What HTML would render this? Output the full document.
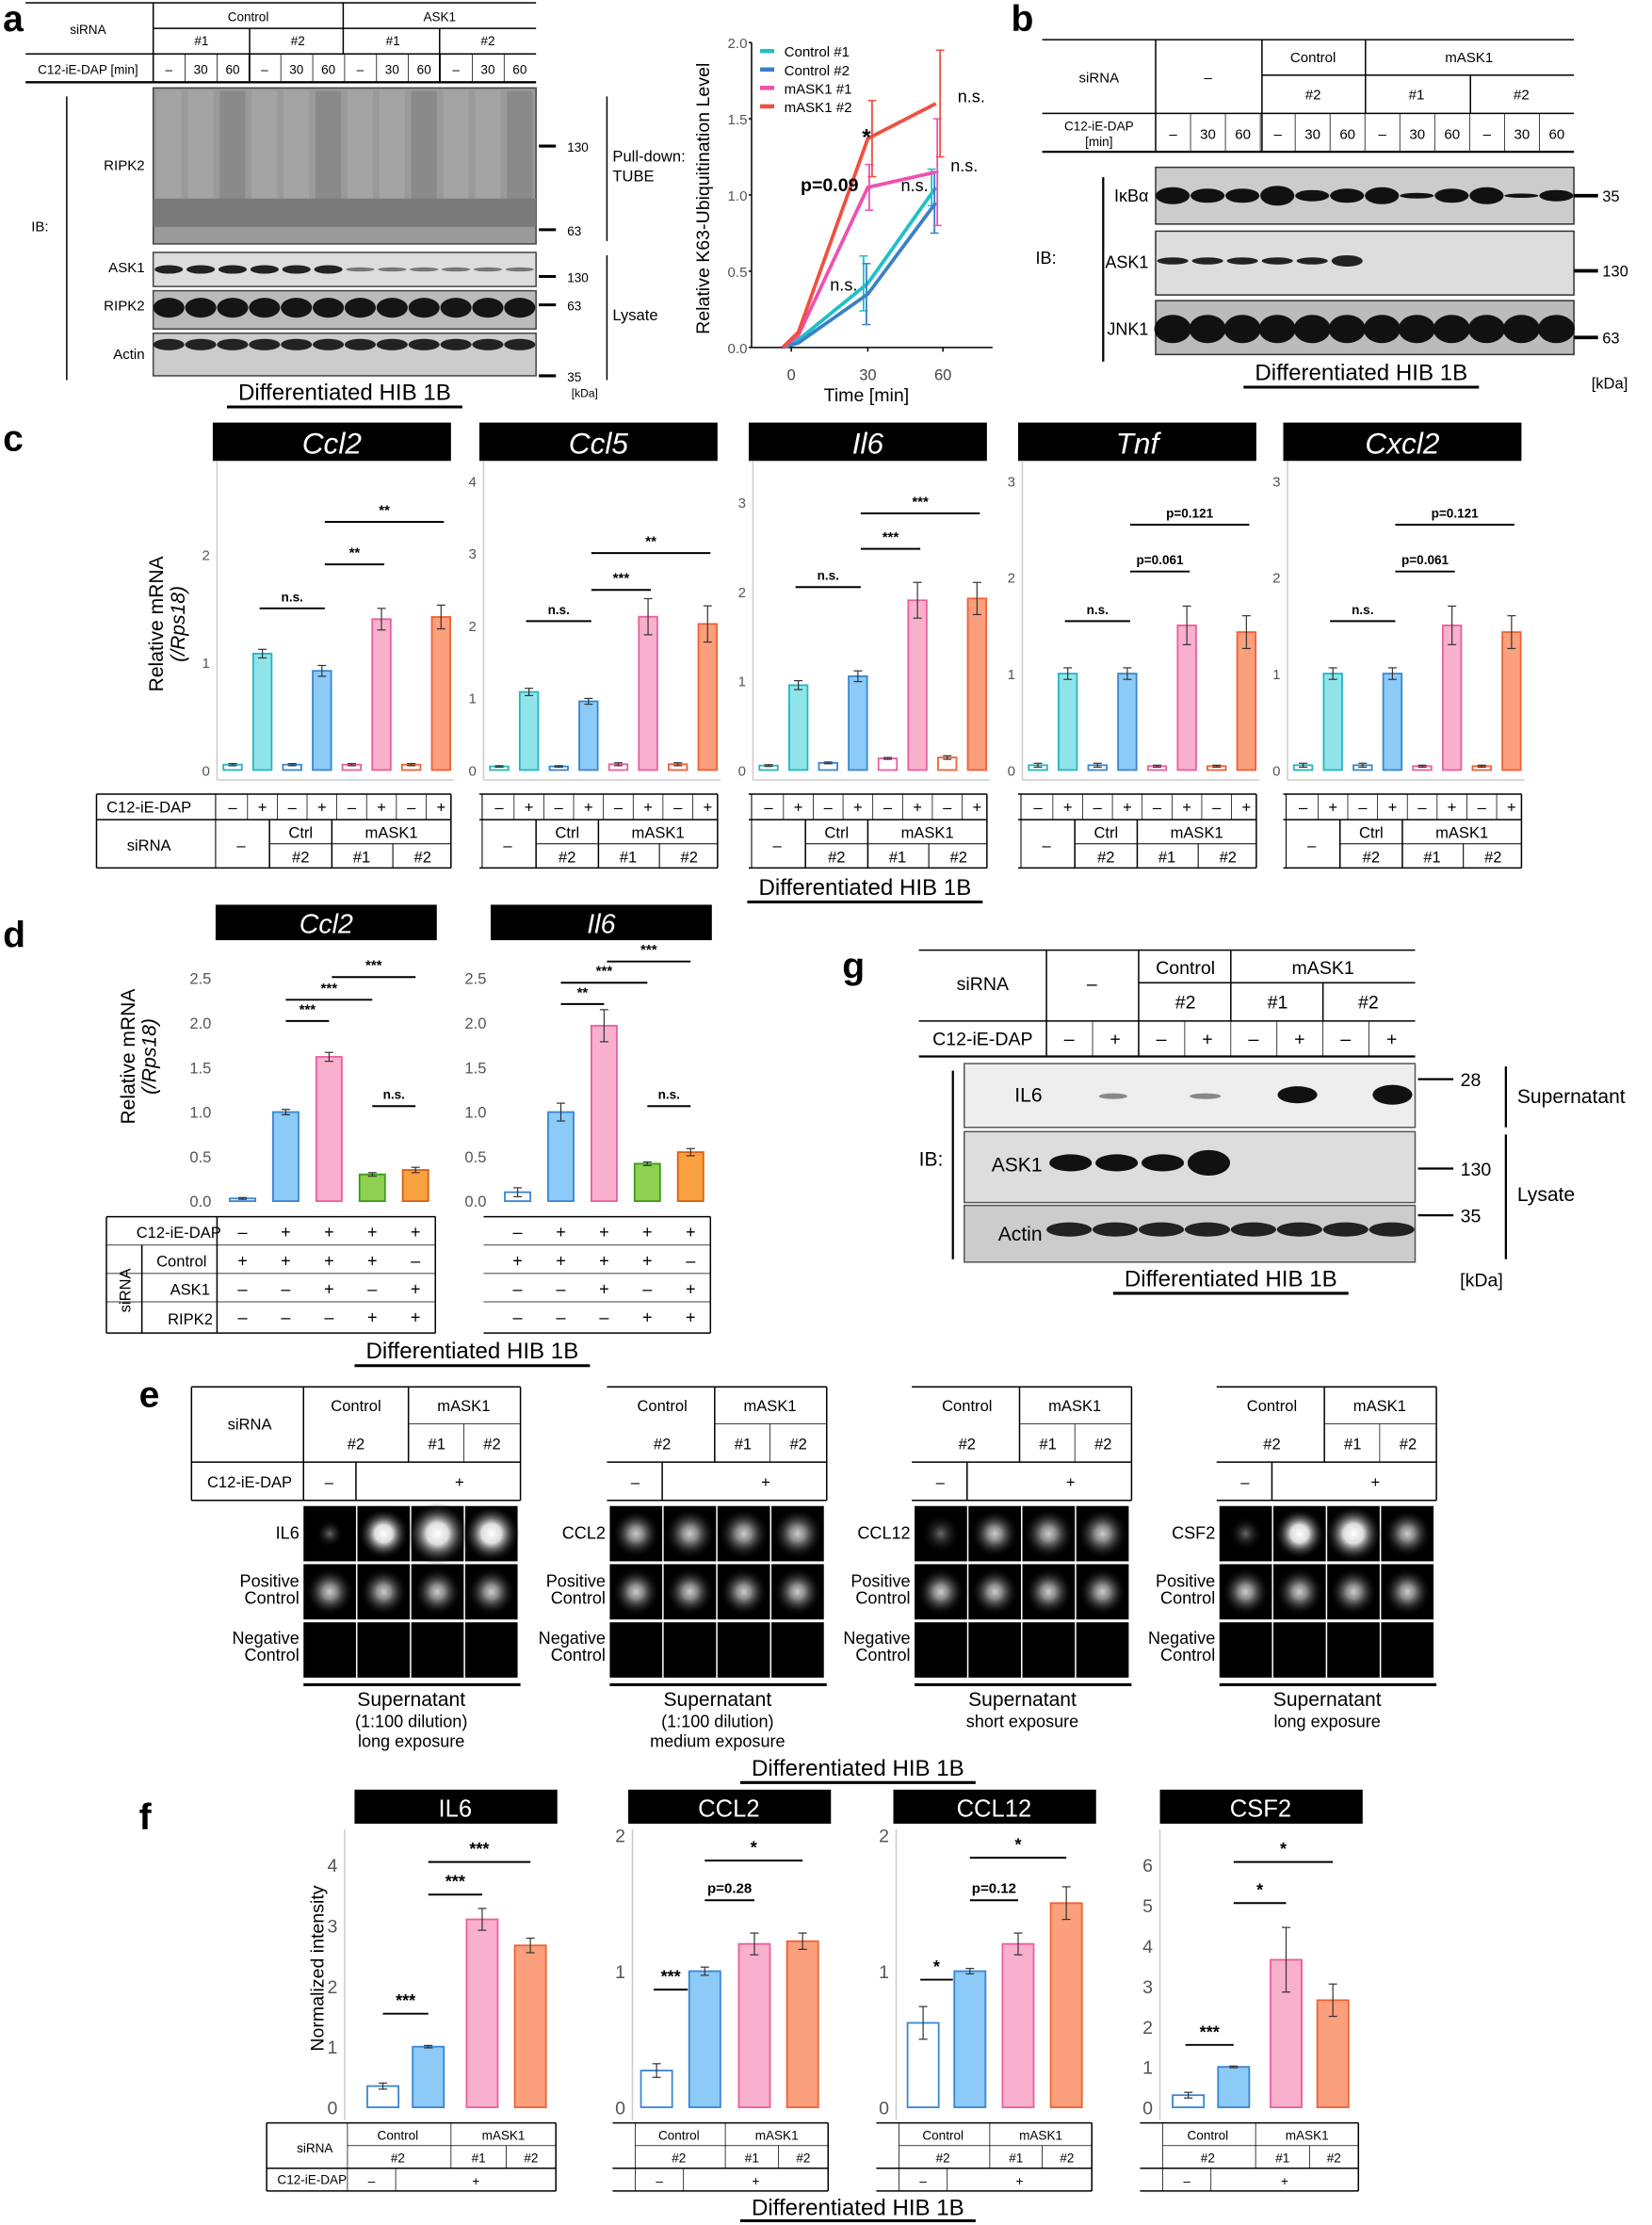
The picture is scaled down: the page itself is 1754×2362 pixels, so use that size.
<!DOCTYPE html>
<html><head><meta charset="utf-8"><style>
html,body{margin:0;padding:0;background:#fff;}
svg{display:block;}
text{font-family:"Liberation Sans",sans-serif;}
</style></head><body>
<svg id="s" xmlns="http://www.w3.org/2000/svg" width="1754" height="2362" viewBox="0 0 1165 1569">
<defs>
<radialGradient id="g1"><stop offset="0" stop-color="#fff"/><stop offset="0.35" stop-color="#ddd"/><stop offset="1" stop-color="#000" stop-opacity="0"/></radialGradient>
<radialGradient id="g2"><stop offset="0" stop-color="#ccc"/><stop offset="0.3" stop-color="#888"/><stop offset="1" stop-color="#000" stop-opacity="0"/></radialGradient>
<radialGradient id="g3"><stop offset="0" stop-color="#666"/><stop offset="0.3" stop-color="#333"/><stop offset="1" stop-color="#000" stop-opacity="0"/></radialGradient>
</defs>
</svg>
<script>
var o='';
function R(x,y,w,h,f,s,sw){o+='<rect x="'+x+'" y="'+y+'" width="'+w+'" height="'+h+'" fill="'+(f||'none')+'"'+(s?' stroke="'+s+'" stroke-width="'+(sw||1)+'"':'')+'/>';}
function L(x1,y1,x2,y2,c,w){o+='<line x1="'+x1+'" y1="'+y1+'" x2="'+x2+'" y2="'+y2+'" stroke="'+(c||'#000')+'" stroke-width="'+(w||1)+'"/>';}
function T(x,y,s,sz,a,ex){o+='<text x="'+x+'" y="'+y+'" font-size="'+(sz||11)+'" text-anchor="'+(a||'middle')+'" '+(ex||'')+'>'+s+'</text>';}
[['a',2,22],['b',713,22],['c',2,318],['d',2,668],['g',594,690],['e',98,992],['f',98,1290]].forEach(function(p){T(p[1],p[2],p[0],26,'start','font-weight="bold"');});
// ===== Panel a table
L(18,2,378,2);L(18,58,378,58,'#000',1.5);L(18,38,378,38);L(108,20,378,20);
L(108,2,108,58);L(242,2,242,38);
T(62,24,'siRNA',9);T(175,15,'Control',9);T(310,15,'ASK1',9);
T(142,32,'#1',9);T(210,32,'#2',9);T(277,32,'#1',9);T(344,32,'#2',9);L(176,20,176,58);L(310,20,310,58);
T(62,52,'C12-iE-DAP [min]',9);
var lab=['–','30','60'];
for(var i=0;i<12;i++){var cx=108+22.5*i+11;T(cx,52,lab[i%3],9);if(i>0)L(108+22.5*i,38,108+22.5*i,58,'#000',0.5);}
R(108,62,270,110,'#9a9a9a','#444');
for(var i=0;i<12;i++){R(110+22.5*i,64,18,80,i%3==2?'#8a8a8a':'#a4a4a4');}
R(108,140,270,20,'#7a7a7a');
R(108,178,270,24,'#ddd','#444');for(var i=0;i<12;i++)o+='<ellipse cx="'+(119+22.5*i)+'" cy="190" rx="10" ry="'+(i<6?3:1.5)+'" fill="'+(i<6?'#222':'#777')+'"/>';
R(108,205,270,27,'#bbb','#444');for(var i=0;i<12;i++)o+='<ellipse cx="'+(119+22.5*i)+'" cy="217" rx="11" ry="7" fill="#151515"/>';
R(108,235,270,30,'#ccc','#444');for(var i=0;i<12;i++)o+='<ellipse cx="'+(119+22.5*i)+'" cy="243" rx="11" ry="4" fill="#222"/>';
T(102,120,'RIPK2',10,'end');T(102,192,'ASK1',10,'end');T(102,219,'RIPK2',10,'end');T(102,253,'Actin',10,'end');
T(22,163,'IB:',10,'start');L(47,68,47,268);
[[103,'130'],[162,'63'],[195,'130'],[215,'63'],[265,'35']].forEach(function(m){L(380,m[0],392,m[0],'#000',2);T(400,m[0]+4,m[1],9,'start');});
T(403,280,'[kDa]',8,'start');
L(428,68,428,170);L(428,180,428,268);T(432,114,'Pull-down:',11,'start');T(432,128,'TUBE',11,'start');T(432,226,'Lysate',11,'start');
T(243,282,'Differentiated HIB 1B',16);L(160,287,326,287,'#000',2);
// line chart a
L(530,30,530,245);L(530,245,700,245);
[0,0.5,1,1.5,2].forEach(function(v){var y=245-107.5*v;T(527,y+4,v.toFixed(1),10,'end','fill="#555"');L(528,y,530,y);});
[['0',558],['30',612],['60',665]].forEach(function(t){T(t[1],268,t[0],11,'middle','fill="#444"');L(t[1],245,t[1],248);});
T(611,283,'Time [min]',13);
T(500,140,'Relative K63-Ubiquitination Level',13,'middle','transform="rotate(-90 500 140)"');
var xs=[552,563,612,660];
var ser=[['#20c0c8',[0,0.05,0.42,1.05],[0,0,0.18,0.12]],['#3a80c8',[0,0.03,0.35,0.95],[0,0,0.2,0.2]],['#f050b0',[0,0.08,1.05,1.15],[0,0,0.15,0.35]],['#f05040',[0,0.1,1.37,1.6],[0,0,0.25,0.35]]];
ser.forEach(function(s,k){var p=xs.map(function(x,i){return x+','+(245-107.5*s[1][i]);}).join(' ');o+='<polyline points="'+p+'" fill="none" stroke="'+s[0]+'" stroke-width="2.5"/>';
 for(var i=2;i<4;i++){var x=xs[i]+(k-1.5)*2,y1=245-107.5*(s[1][i]-s[2][i]),y2=245-107.5*(s[1][i]+s[2][i]);L(x,y1,x,y2,s[0],1.2);L(x-3,y1,x+3,y1,s[0]);L(x-3,y2,x+3,y2,s[0]);}});
var ln=['Control #1','Control #2','mASK1 #1','mASK1 #2'];
ser.forEach(function(s,k){L(536,36+13*k,546,36+13*k,s[0],3);T(553,40+13*k,ln[k],10,'start');});
T(611,102,'*',16,'middle','font-weight="bold"');T(585,135,'p=0.09',13,'middle','font-weight="bold"');T(645,135,'n.s.',12);T(685,72,'n.s.',12);T(680,121,'n.s.',12);T(595,205,'n.s.',12);
// ===== Panel b
L(735,28,1110,28);L(735,80,1110,80);L(735,107,1110,107,'#000',1.5);L(890,53,1110,53);
L(815,28,815,107);L(890,28,890,107);L(963,28,963,80);L(1037,53,1037,80);
T(775,58,'siRNA',10);T(852,58,'–',10);T(926,44,'Control',10);T(1036,44,'mASK1',10);
T(926,70,'#2',10);T(999,70,'#1',10);T(1073,70,'#2',10);
T(775,92,'C12-iE-DAP',9);T(775,103,'[min]',9);
for(var i=0;i<12;i++){var cx=815+24.6*i+12.3;T(cx,98,lab[i%3],10);if(i>0)L(815+24.6*i,80,815+24.6*i,107,'#000',0.5);}
R(815,118,295,40,'#ccc','#333');var ik=[6,5,5,7,4,5,6,2,5,6,1.5,4];for(var i=0;i<12;i++)o+='<ellipse cx="'+(827+24.6*i)+'" cy="138" rx="12" ry="'+ik[i]+'" fill="#111"/>';
R(815,163,295,45,'#ddd','#333');for(var i=0;i<6;i++)o+='<ellipse cx="'+(827+24.6*i)+'" cy="184" rx="11" ry="'+(i==5?4:2.5)+'" fill="#222"/>';
R(815,212,295,38,'#bbb','#333');for(var i=0;i<12;i++)o+='<ellipse cx="'+(827+24.6*i)+'" cy="232" rx="13" ry="10" fill="#111"/>';
T(810,142,'IκBα',12,'end');T(810,189,'ASK1',12,'end');T(810,236,'JNK1',12,'end');T(745,186,'IB:',12,'end');L(778,125,778,255,'#000',1.5);
L(1110,138,1127,138,'#000',2.5);T(1130,142,'35',11,'start');L(1110,191,1127,191,'#000',2.5);T(1130,195,'130',11,'start');L(1110,238,1127,238,'#000',2.5);T(1130,242,'63',11,'start');
T(960,268,'Differentiated HIB 1B',16);L(877,273,1043,273,'#000',2);T(1148,274,'[kDa]',11,'end');
// ===== bars generic
var C={cy:['#8fe4ea','#27b6c0'],bl:['#8ccaf7','#3a86d0'],pk:['#f9b0cc','#ea5f9e'],or:['#fb9f7c','#ee6236'],gr:['#8fd050','#3d9a20'],o2:['#f9a040','#d86010']};
function bars(list,y0,sc,w){list.forEach(function(b){var x=b[0],v=b[1],c=C[b[2]],e=b[3],out=b[4];var h=v*sc;
 R(x-w/2,y0-h,w,h,out?'#fff':c[0],c[1],1.2);
 if(e){L(x,y0-(v-e)*sc,x,y0-(v+e)*sc,'#333',0.8);L(x-3,y0-(v-e)*sc,x+3,y0-(v-e)*sc,'#333',0.8);L(x-3,y0-(v+e)*sc,x+3,y0-(v+e)*sc,'#333',0.8);}});}
function sig(x1,x2,y,s,sz){L(x1,y,x2,y,'#000',1.3);T((x1+x2)/2,y-5,s,sz||10,'middle','font-weight="bold"');}
// ===== Panel c
var cc=[{x:150,n:'Ccl2',sc:76,max:2,v:[0.05,1.08,0.05,0.92,0.05,1.4,0.05,1.42],e:[0.01,0.04,0.01,0.05,0.01,0.1,0.01,0.11]},
{x:338,n:'Ccl5',sc:51,max:4,v:[0.05,1.08,0.05,0.95,0.08,2.12,0.08,2.02],e:[0.01,0.05,0.01,0.04,0.02,0.25,0.02,0.25]},
{x:528,n:'Il6',sc:63,max:3,v:[0.05,0.95,0.08,1.05,0.13,1.9,0.14,1.92],e:[0.01,0.05,0.01,0.06,0.01,0.2,0.02,0.18]},
{x:718,n:'Tnf',sc:68,max:3,v:[0.05,1.0,0.05,1.0,0.04,1.5,0.04,1.43],e:[0.02,0.06,0.02,0.06,0.01,0.2,0.01,0.17]},
{x:905,n:'Cxcl2',sc:68,max:3,v:[0.05,1.0,0.05,1.0,0.04,1.5,0.04,1.43],e:[0.02,0.06,0.02,0.06,0.01,0.2,0.01,0.17]}];
var cols=['cy','cy','bl','bl','pk','pk','or','or'];
cc.forEach(function(c,k){var x0=c.x,ax=x0+3;
 R(x0,298,168,27,'#000');T(x0+84,320,c.n,21,'middle','fill="#fff" font-style="italic"');
 L(ax,325,ax,550,'#ccc');L(ax,550,x0+170,550,'#ccc');
 for(var t=0;t<=c.max;t++){T(ax-5,543-t*c.sc+4,t,10,'end','fill="#555"');}
 var list=[];for(var i=0;i<8;i++)list.push([x0+14+21*i,c.v[i],cols[i],c.e[i],i%2==0]);
 bars(list,543,c.sc,13);
 var bx=function(i){return x0+14+21*i;};
 if(k==0){sig(bx(1)-2,bx(3)+2,429,'n.s.',9);sig(bx(3)+2,bx(5)+2,398,'**');sig(bx(3)+2,bx(7)+2,368,'**');}
 if(k==1){sig(bx(1)-2,bx(3)+2,438,'n.s.',9);sig(bx(3)+2,bx(5)+2,416,'***');sig(bx(3)+2,bx(7)+2,390,'**');}
 if(k==2){sig(bx(1)-2,bx(3)+2,414,'n.s.',9);sig(bx(3)+2,bx(5)+2,387,'***');sig(bx(3)+2,bx(7)+2,362,'***');}
 if(k>=3){sig(bx(1)-2,bx(3)+2,438,'n.s.',9);sig(bx(3)+2,bx(5)+2,403,'p=0.061',9);sig(bx(3)+2,bx(7)+2,370,'p=0.121',9);}
 var tx=k==0?68:x0,tl=x0+20,tw=x0+168;
 L(tx,560,tw,560);L(tx,578,tw,578);L(tl+20,595,tw,595,'#000',0.7);L(tx,612,tw,612);
 if(k==0){T(105,573,'C12-iE-DAP',11);T(105,600,'siRNA',11);L(tx,560,tx,612);}
 L(x0+2,560,x0+2,612,'#000',0.7);L(x0+40,578,x0+40,612);L(x0+84,578,x0+84,612);L(x0+127,595,x0+127,612,'#000',0.7);L(tw,560,tw,612);
 for(var i=0;i<8;i++){T(bx(i),573,i%2?'+':'–',11);if(i>0)L(bx(i)-10.5,560,bx(i)-10.5,578,'#000',0.5);}
 T(x0+20,600,'–',11);T(x0+62,591,'Ctrl',11);T(x0+126,591,'mASK1',11);T(x0+62,608,'#2',11);T(x0+105,608,'#1',11);T(x0+148,608,'#2',11);
});
T(115,440,'Relative mRNA',14,'middle','transform="rotate(-90 115 440)"');T(130,440,'(/Rps18)',14,'middle','font-style="italic" transform="rotate(-90 130 440)"');
T(610,631,'Differentiated HIB 1B',16);L(527,636,693,636,'#000',2);
// ===== Panel d
var dd=[{x:152,n:'Ccl2',v:[0.03,1.0,1.62,0.3,0.35],e:[0.01,0.03,0.05,0.02,0.03]},{x:346,n:'Il6',v:[0.1,1.0,1.97,0.42,0.55],e:[0.05,0.1,0.18,0.02,0.04]}];
dd.forEach(function(d,k){var x0=d.x,ax=x0+2;
 R(x0,638,156,25,'#000');T(x0+78,658,d.n,19,'middle','fill="#fff" font-style="italic"');
 for(var t=0;t<=5;t++){var v=t*0.5;T(ax-5,847-v*62.8+4,v.toFixed(1),11,'end','fill="#555"');}
 var cs=['bl','bl','pk','gr','o2'];var list=[];for(var i=0;i<5;i++)list.push([x0+19+30.5*i,d.v[i],cs[i],d.e[i],i==0]);
 bars(list,847,62.8,18);var bx=function(i){return x0+19+30.5*i;};
 if(k==0){sig(bx(1),bx(2),720,'***');sig(bx(1),bx(3),705,'***');sig(bx(2)+2,bx(4),689,'***');sig(bx(3),bx(4),780,'n.s.',9);}
 else{sig(bx(1),bx(2),708,'**');sig(bx(1),bx(3),693,'***');sig(bx(2)+2,bx(4),678,'***');sig(bx(3),bx(4),780,'n.s.',9);}
 var tx=k==0?75:x0-5,tw=x0+155;
 [858,878,898,918,940].forEach(function(y){L(tx,y,tw,y,'#000',y==858||y==940?1:0.5);});L(tw,858,tw,940);
 var rows=[['–','+','+','+','+'],['+','+','+','+','–'],['–','–','+','–','+'],['–','–','–','+','+']];
 rows.forEach(function(r,j){r.forEach(function(s,i){T(bx(i),873+20*j,s,12);});});
});
L(75,858,75,940);L(100,878,100,940);L(153,858,153,940);
T(126,873,'C12-iE-DAP',11);T(128,893,'Control',11);T(148,913,'ASK1',11,'end');T(150,934,'RIPK2',11,'end');
T(92,910,'siRNA',11,'middle','transform="rotate(-90 92 910)"');
T(95,745,'Relative mRNA',14,'middle','transform="rotate(-90 95 745)"');T(110,745,'(/Rps18)',14,'middle','font-style="italic" transform="rotate(-90 110 745)"');
T(333,958,'Differentiated HIB 1B',16);L(250,963,416,963,'#000',2);
// ===== Panel g
L(648,670,998,670);L(648,720,998,720);L(648,745,998,745,'#000',1.5);L(803,693,998,693);
L(738,670,738,745);L(803,670,803,745);L(868,670,868,720);L(933,693,933,720);
T(693,698,'siRNA',13);T(770,698,'–',13);T(836,687,'Control',13);T(933,687,'mASK1',13);T(836,711,'#2',13);T(901,711,'#1',13);T(965,711,'#2',13);
T(693,737,'C12-iE-DAP',13);for(var i=0;i<8;i++){T(754+32.5*i,737,i%2?'+':'–',13);if(i>0)L(738+32.5*i,720,738+32.5*i,745,'#000',0.5);}
R(680,750,318,45,'#eee','#555');o+='<ellipse cx="785" cy="773" rx="10" ry="2" fill="#888"/><ellipse cx="850" cy="773" rx="11" ry="2" fill="#888"/><ellipse cx="915" cy="772" rx="14" ry="6" fill="#111"/><ellipse cx="982" cy="772" rx="14" ry="7" fill="#111"/>';
R(680,798,318,50,'#ddd','#555');[0,1,2,3].forEach(function(i){o+='<ellipse cx="'+(755+32.5*i)+'" cy="820" rx="15" ry="'+(i==3?9:6)+'" fill="#111"/>';});
R(680,850,318,40,'#ccc','#555');for(var i=0;i<8;i++)o+='<ellipse cx="'+(754+32.5*i)+'" cy="867" rx="16" ry="5" fill="#222"/>';
T(735,777,'IL6',14,'end');T(735,826,'ASK1',14,'end');T(735,875,'Actin',14,'end');T(648,822,'IB:',14,'start');L(672,755,672,888,'#000',1.5);
[[761,'28'],[824,'130'],[857,'35']].forEach(function(m){L(1000,m[0],1025,m[0],'#000',1.5);T(1030,m[0]+5,m[1],13,'start');});
L(1062,752,1062,795,'#000',1.5);L(1062,800,1062,888,'#000',1.5);T(1070,778,'Supernatant',14,'start');T(1070,847,'Lysate',14,'start');
T(868,907,'Differentiated HIB 1B',16);L(785,912,951,912,'#000',2);T(1060,907,'[kDa]',13,'end');
// ===== Panel e
var ee=[{x:214,n:'IL6',g:['g3','g1','g1','g1'],r:[10,18,22,20],c1:'Supernatant',c2:'(1:100 dilution)',c3:'long exposure'},
{x:430,n:'CCL2',g:['g2','g2','g2','g2'],r:[17,18,18,18],c1:'Supernatant',c2:'(1:100 dilution)',c3:'medium exposure'},
{x:645,n:'CCL12',g:['g3','g2','g2','g2'],r:[14,17,18,18],c1:'Supernatant',c2:'short exposure',c3:''},
{x:860,n:'CSF2',g:['g3','g1','g1','g2'],r:[12,18,20,17],c1:'Supernatant',c2:'long exposure',c3:''}];
ee.forEach(function(e,k){var x0=e.x,tl=k==0?135:x0-2,tw=x0+153;
 L(tl,978,tw,978);L(x0+74,1004,tw,1004,'#000',0.5);L(tl,1031,tw,1031);L(tl,1058,tw,1058);
 L(x0+74,978,x0+74,1031);L(x0+113,1004,x0+113,1031,'#000',0.5);L(x0+37,1031,x0+37,1058);L(tw,978,tw,1058);
 if(k==0){L(tl,978,tl,1058);L(x0,978,x0,1058);T(176,1008,'siRNA',11);T(176,1049,'C12-iE-DAP',11);}
 T(x0+37,995,'Control',11);T(x0+113,995,'mASK1',11);T(x0+37,1022,'#2',11);T(x0+94,1022,'#1',11);T(x0+133,1022,'#2',11);
 T(x0+18,1049,'–',11);T(x0+110,1049,'+',11);
 for(var r=0;r<3;r++)for(var i=0;i<4;i++){var xx=x0+38*i,yy=1062+41*r;R(xx,yy,37,39,'#000');
  if(r==0)o+='<circle cx="'+(xx+18.5)+'" cy="'+(yy+19.5)+'" r="'+e.r[i]+'" fill="url(#'+e.g[i]+')"/>';
  if(r==1)o+='<circle cx="'+(xx+18.5)+'" cy="'+(yy+19.5)+'" r="17" fill="url(#g2)"/>';}
 T(x0-3,1085,e.n,12,'end');T(x0-3,1119,'Positive',12,'end');T(x0-3,1131,'Control',12,'end');T(x0-3,1159,'Negative',12,'end');T(x0-3,1171,'Control',12,'end');
 L(x0,1188,x0+153,1188,'#000',2);T(x0+76,1203,e.c1,14);T(x0+76,1218,e.c2,12);if(e.c3)T(x0+76,1232,e.c3,12);
});
T(605,1252,'Differentiated HIB 1B',16);L(522,1257,688,1257,'#000',2);
// ===== Panel f
var ff=[{ax:243,n:'IL6',hx:250,sc:42.75,max:4,cx:[270,302,340,374],v:[0.35,1.0,3.1,2.67],e:[0.05,0.02,0.18,0.12]},
{ax:446,n:'CCL2',hx:443,sc:96,max:2,cx:[463,497,532,566],v:[0.27,1.0,1.2,1.22],e:[0.05,0.03,0.08,0.06]},
{ax:632,n:'CCL12',hx:630,sc:96,max:2,cx:[651,684,718,752],v:[0.62,1.0,1.2,1.5],e:[0.12,0.02,0.08,0.12]},
{ax:818,n:'CSF2',hx:818,sc:28.5,max:6,cx:[838,870,907,940],v:[0.3,1.0,3.65,2.65],e:[0.07,0.02,0.8,0.4]}];
ff.forEach(function(f,k){
 R(f.hx,1262,143,24,'#000');T(f.hx+71,1281,f.n,17,'middle','fill="#fff"');
 L(f.ax,1290,f.ax,1495,'#ccc');
 for(var t=0;t<=f.max;t++){T(f.ax-5,1486-t*f.sc+5,t,13,'end','fill="#555"');}
 var cs=['bl','bl','pk','or'];bars(f.cx.map(function(x,i){return [x,f.v[i],cs[i],f.e[i],i==0];}),1486,f.sc,22);
 var c=f.cx;
 if(k==0){sig(c[0],c[1],1420,'***',12);sig(c[1],c[2],1336,'***',12);sig(c[1],c[3],1313,'***',12);}
 if(k==1){sig(c[0]-2,c[1]-12,1403,'***',12);sig(c[1],c[2],1340,'p=0.28',10);sig(c[1],c[3],1312,'*',12);}
 if(k==2){sig(c[0]-2,c[1]-12,1396,'*',12);sig(c[1],c[2],1340,'p=0.12',10);sig(c[1],c[3],1310,'*',12);}
 if(k==3){sig(c[0]-2,c[1],1442,'***',12);sig(c[1],c[2],1342,'*',12);sig(c[1],c[3],1313,'*',12);}
 var tl=k==0?188:f.ax-14,tw=f.cx[3]+18;
 L(tl,1497,tw,1497);L(tl,1529,tw,1529);L(tl,1545,tw,1545);L(f.ax+2,1513,tw,1513,'#000',0.5);
 var m=(f.cx[1]+f.cx[2])/2-3;L(f.ax+2,1497,f.ax+2,1545,'#000',0.5);L(m,1497,m,1529,'#000',0.5);L((f.cx[2]+f.cx[3])/2,1513,(f.cx[2]+f.cx[3])/2,1529,'#000',0.5);L(f.ax+36,1529,f.ax+36,1545,'#000',0.5);L(tw,1497,tw,1545);
 T((f.ax+m)/2,1509,'Control',9);T((m+tw)/2,1509,'mASK1',9);T((f.ax+m)/2,1525,'#2',9);T((m+(f.cx[2]+f.cx[3])/2)/2,1525,'#1',9);T(((f.cx[2]+f.cx[3])/2+tw)/2,1525,'#2',9);
 T(f.ax+19,1541,'–',9);T((f.ax+36+tw)/2,1541,'+',9);
});
L(188,1497,188,1545);T(222,1518,'siRNA',9);T(220,1540,'C12-iE-DAP',9);
T(228,1388,'Normalized intensity',13,'middle','transform="rotate(-90 228 1388)"');
T(605,1562,'Differentiated HIB 1B',16);L(522,1566,688,1566,'#000',2);
document.getElementById('s').insertAdjacentHTML('beforeend',o);
</script>
</body></html>
